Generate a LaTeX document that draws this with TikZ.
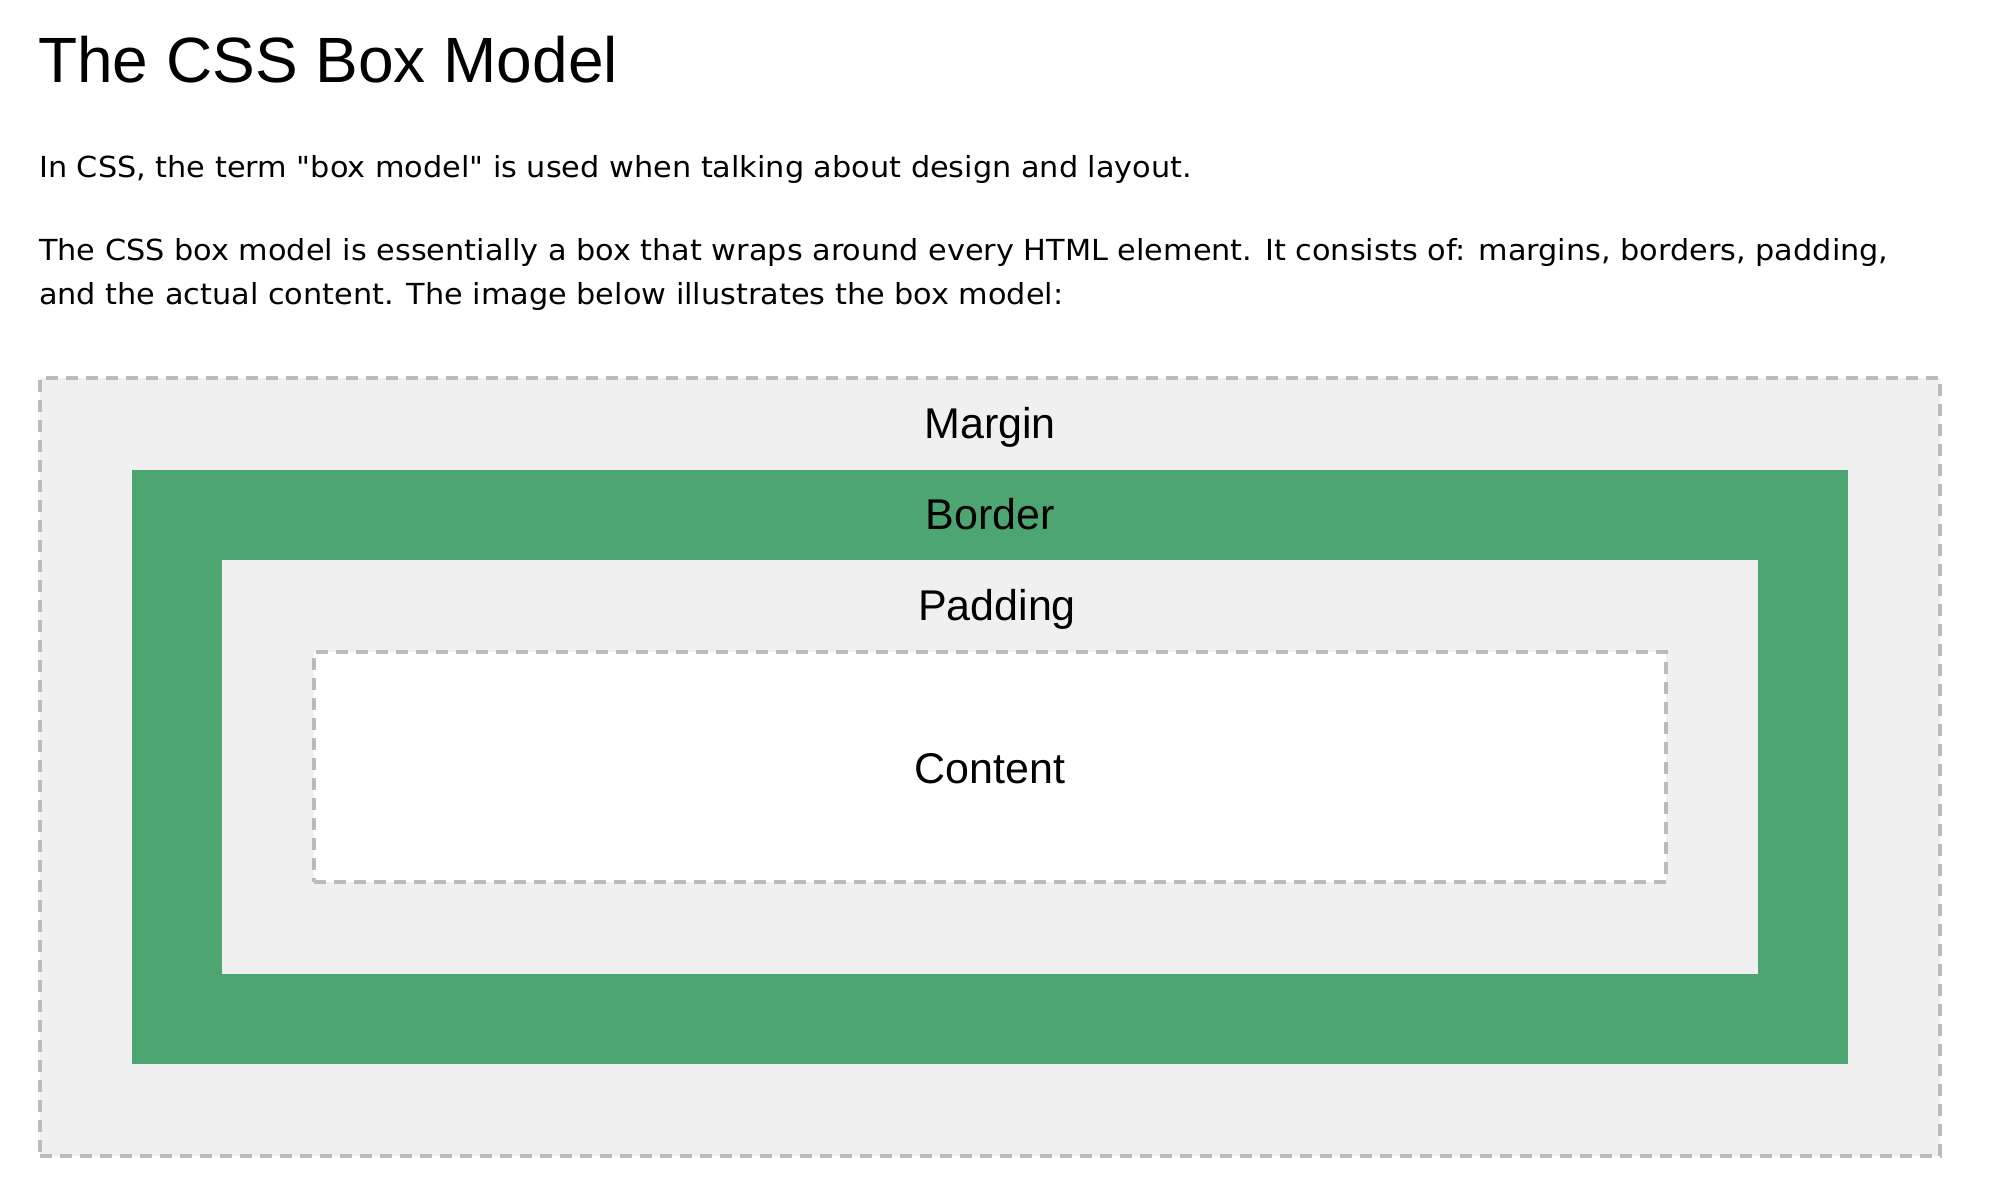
\documentclass[tikz,border=0pt]{standalone}
\usepackage{fontspec}
\setmainfont{Liberation Sans}
\newfontfamily\bodyfont[FakeStretch=1.045]{DejaVu Sans}
\definecolor{boxgray}{HTML}{F0F0F0}
\definecolor{boxgreen}{HTML}{4DA672}
\definecolor{dashgray}{HTML}{BBBBBB}

\begin{document}
\begin{tikzpicture}[x=1pt, y=-1pt,
    title/.style={anchor=base west, inner sep=0, font=\fontsize{64pt}{77pt}\selectfont},
    bodytext/.style={anchor=base west, inner sep=0, font=\bodyfont\fontsize{29pt}{35pt}\selectfont},
    layer/.style={inner sep=0, outer sep=0},
    dashbox/.style={layer, draw=dashgray, line width=4pt, dash pattern=on 12pt off 8pt},
    layertext/.style={anchor=base, inner sep=0, font=\fontsize{43pt}{52pt}\selectfont}]
    \useasboundingbox (0,0) rectangle (1994,1202);
    \fill[white] (0,0) rectangle (1994,1202);
    % heading and text
    \node[title] (head) at (38,82) {The CSS Box Model};
    \node[bodytext] (para1) at (39,177) {In CSS, the term "box model" is used when talking about design and layout.};
    \node[bodytext] (para2a) at (39,260) {The CSS box model is essentially a box that wraps around every HTML element. It consists of: margins, borders, padding,};
    \node[bodytext] (para2b) at (39,304) {and the actual content. The image below illustrates the box model:};
    % the boxes
    \node[dashbox, fill=boxgray, minimum width=1900pt, minimum height=778pt] (margin) at (990,767) {};
    \node[layer, fill=boxgreen, minimum width=1716pt, minimum height=594pt] (border) at (990,767) {};
    \node[layer, fill=boxgray, minimum width=1536pt, minimum height=414pt] (padding) at (990,767) {};
    \node[dashbox, fill=white, minimum width=1352pt, minimum height=230pt] (content) at (990,767) {};
    % the labels
    \node[layertext] (marginlbl) at (990,438) {Margin};
    \node[layertext] (borderlbl) at (990,529) {Border};
    \node[layertext] (paddinglbl) at (997,620) {Padding};
    \node[layertext] (contentlbl) at (990,783) {Content};
\end{tikzpicture}
\end{document}
